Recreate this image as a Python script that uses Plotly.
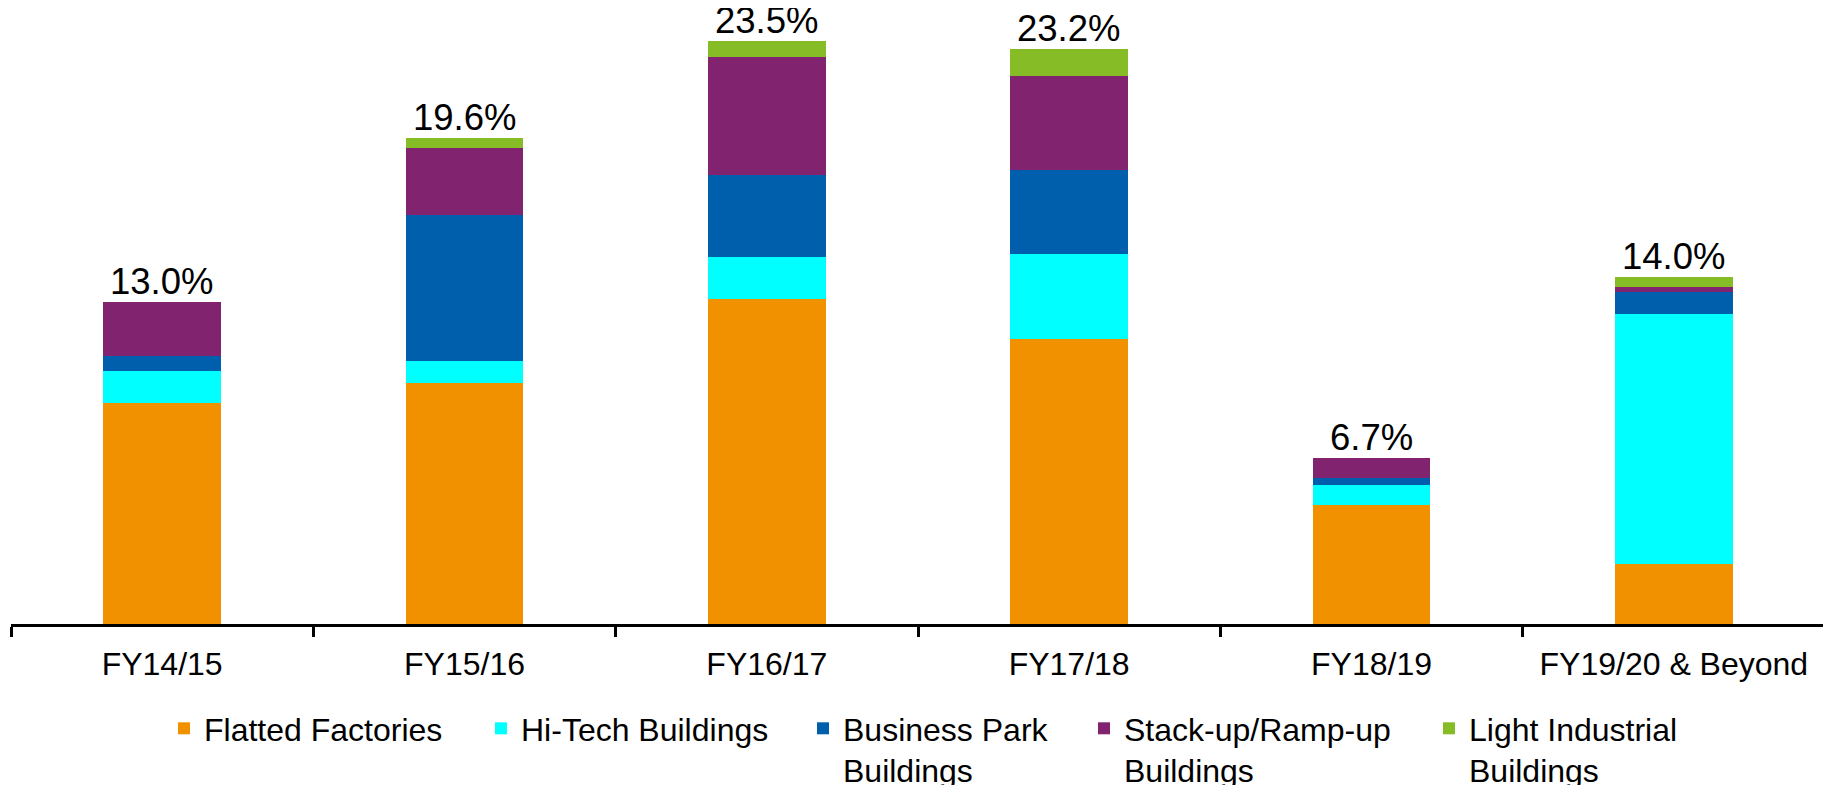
import plotly.graph_objects as go

categories = ["FY14/15", "FY15/16", "FY16/17", "FY17/18", "FY18/19", "FY19/20 & Beyond"]

flatted_factories = [8.9, 9.7, 13.1, 11.5, 4.8, 2.4]
hitech_buildings = [1.3, 0.9, 1.7, 3.4, 0.8, 10.1]
business_park = [0.6, 5.9, 3.3, 3.4, 0.3, 0.9]
stackup_rampup = [2.2, 2.7, 4.75, 3.8, 0.8, 0.2]
light_industrial = [0.0, 0.4, 0.65, 1.1, 0.0, 0.4]

totals = [13.0, 19.6, 23.5, 23.2, 6.7, 14.0]
total_labels = ["13.0%", "19.6%", "23.5%", "23.2%", "6.7%", "14.0%"]

series_names = [
    "Flatted Factories",
    "Hi-Tech Buildings",
    "Business Park<br>Buildings",
    "Stack-up/Ramp-up<br>Buildings",
    "Light Industrial<br>Buildings",
]
series_values = [flatted_factories, hitech_buildings, business_park, stackup_rampup, light_industrial]
colors = ["#F29100", "#00FFFF", "#005FAD", "#82236F", "#86BC25"]

# page body has an 8px margin, so the figure is sized to fit the window
W, H = 1823, 777
FONT = "Liberation Sans, Arial, sans-serif"

legend_x_px = [156, 473, 795, 1076, 1421]
legend_ids = ["legend", "legend2", "legend3", "legend4", "legend5"]

fig = go.Figure()
for name, vals, col, lid in zip(series_names, series_values, colors, legend_ids):
    fig.add_trace(go.Bar(
        x=categories, y=vals, name=name,
        marker=dict(color=col, line=dict(width=0)),
        legend=lid, hoverinfo="skip",
    ))

for cat, tot, lab in zip(categories, totals, total_labels):
    fig.add_annotation(
        x=cat, y=tot, text=lab, showarrow=False,
        xref="x", yref="y", yanchor="bottom", yshift=-2,
        font=dict(family=FONT, size=36.5, color="black"),
    )

layout_legends = {}
for lid, xp in zip(legend_ids, legend_x_px):
    layout_legends[lid] = dict(
        x=xp / W, xref="container", xanchor="left",
        y=1 - 693 / H, yref="container", yanchor="top",
        orientation="v", valign="top",
        bgcolor="rgba(0,0,0,0)",
        font=dict(family=FONT, size=32, color="black"),
        itemclick=False, itemdoubleclick=False,
    )

fig.update_layout(
    width=W, height=H,
    barmode="stack", bargap=0.61,
    paper_bgcolor="white", plot_bgcolor="white",
    margin=dict(l=3, r=6, t=12, b=161, autoexpand=False),
    showlegend=True,
    **layout_legends,
    xaxis=dict(
        type="category",
        showline=True, linecolor="black", linewidth=3,
        ticks="outside", ticklen=10, tickwidth=3, tickcolor="black",
        tickson="boundaries",
        ticklabelstandoff=10,
        tickangle=0,
        tickfont=dict(family=FONT, size=32, color="black"),
        showgrid=False, zeroline=False,
    ),
    yaxis=dict(visible=False, range=[0, 24.35], showgrid=False, zeroline=False),
)

fig.write_html("out.html")
